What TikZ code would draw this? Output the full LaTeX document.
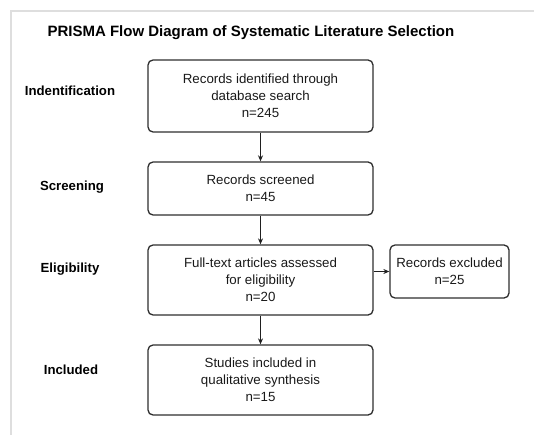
\documentclass[tikz,border=0pt]{standalone}
\usepackage{fontspec}
\setmainfont{Liberation Sans}
\usetikzlibrary{arrows.meta}
\begin{document}
\begin{tikzpicture}[x=1pt,y=-1pt,
  stagebox/.style={draw=black!82, line width=1.3pt, rounded corners=5pt, align=center,
    font=\fontsize{13.3}{17}\selectfont, inner sep=0pt, text=black!90},
  phase/.style={font=\bfseries\fontsize{13.2}{15}\selectfont, anchor=center},
  flow/.style={draw=black!88, line width=1.2pt, -{Stealth[length=6pt,width=5pt]}}]
\useasboundingbox (0,0) rectangle (534,435);
\draw[black!13, line width=2pt] (11,440) -- (11,11) -- (540,11);
\node[font=\bfseries\fontsize{15}{18}\selectfont, anchor=west] (title) at (44,33) {PRISMA Flow Diagram of Systematic Literature Selection};
\node[phase] (p1) at (70,91) {Indentification};
\node[phase] (p2) at (72,187) {Screening};
\node[phase] (p3) at (70,269) {Eligibility};
\node[phase] (p4) at (71,370) {Included};
\node[stagebox, minimum width=225pt, minimum height=72pt] (b1) at (260.5,96) {Records identified through\\database search\\n=245};
\node[stagebox, minimum width=225pt, minimum height=53pt] (b2) at (260.5,188.5) {Records screened\\n=45};
\node[stagebox, minimum width=225pt, minimum height=70pt] (b3) at (260.5,280) {Full-text articles assessed\\for eligibility\\n=20};
\node[stagebox, minimum width=119pt, minimum height=53pt] (ex) at (449.5,271.5) {Records excluded\\n=25};
\node[stagebox, minimum width=225pt, minimum height=70pt] (b4) at (260.5,380) {Studies included in\\qualitative synthesis\\n=15};
\draw[flow] (b1) -- (b2);
\draw[flow] (b2) -- (b3);
\draw[flow] (b3.east |- ex.west) -- (ex.west);
\draw[flow] (b3) -- (b4);
\end{tikzpicture}
\end{document}
